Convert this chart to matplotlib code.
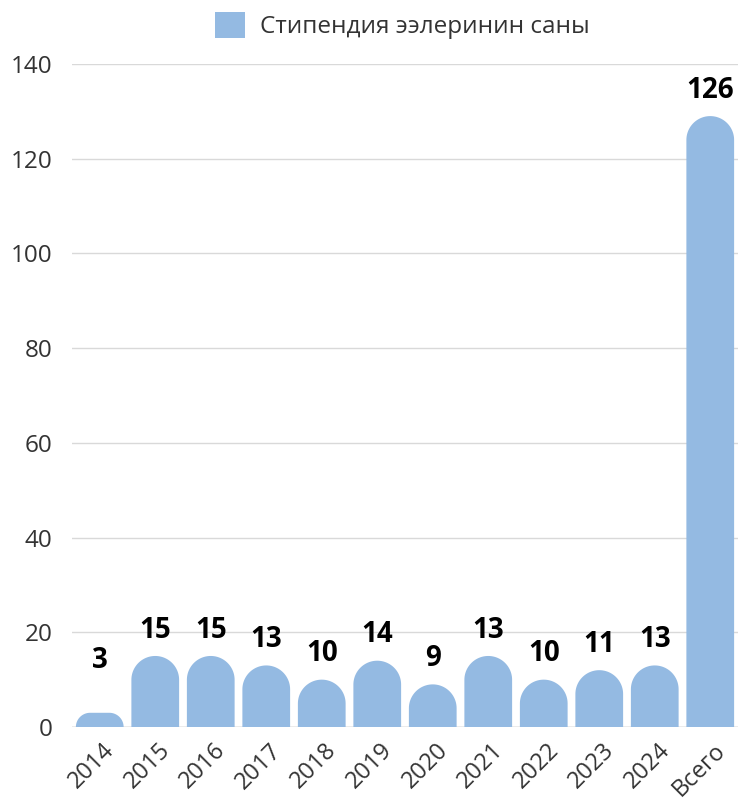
import matplotlib
matplotlib.use("Agg")
import matplotlib.pyplot as plt
import matplotlib.transforms as mtransforms
from matplotlib.patches import Polygon, Patch
import numpy as np

plt.rcParams["font.family"] = ["Open Sans", "DejaVu Sans"]

# ---------- data ----------
categories = ["2014", "2015", "2016", "2017", "2018", "2019",
              "2020", "2021", "2022", "2023", "2024", "Всего"]
bar_heights = [3, 15, 15, 13, 10, 14, 9, 15, 10, 12, 13, 129]
bar_labels = ["3", "15", "15", "13", "10", "14", "9", "13", "10", "11", "13", "126"]
series_name = "Стипендия ээлеринин саны"
y_ticks = [0, 20, 40, 60, 80, 100, 120, 140]

BAR_COLOR = "#94bae2"
GRID_COLOR = "#d9d9d9"
TEXT_COLOR = "#333333"


def rounded_top(x0, width, height, px_x, px_y, n=24):
    """Polygon points for a bar with rounded top corners (round in pixels)."""
    hw_px = width / 2 * px_x
    r = min(hw_px, height * px_y)
    rx, ry = r / px_x, r / px_y
    x1 = x0 + width
    pts = [(x0, 0), (x0, height - ry)]
    for t in np.linspace(np.pi, np.pi / 2, n):
        pts.append((x0 + rx + rx * np.cos(t), height - ry + ry * np.sin(t)))
    for t in np.linspace(np.pi / 2, 0, n):
        pts.append((x1 - rx + rx * np.cos(t), height - ry + ry * np.sin(t)))
    pts.append((x1, 0))
    return pts


fig = plt.figure(figsize=(7.38, 8.09), dpi=100)
ax = fig.add_axes([72 / 738, 1 - 727 / 809, 666 / 738, 663 / 809])

x = np.arange(len(categories))
ax.set_xlim(-0.5, len(categories) - 0.5)
ax.set_ylim(0, 140)

bars = ax.bar(x, bar_heights, width=0.86, color=BAR_COLOR, zorder=2)

# swap the plain rectangles for round-topped shapes
p0, p1 = ax.transData.transform([(0, 0), (1, 1)])
px_x, px_y = p1 - p0
for rect in bars:
    rect.set_visible(False)
    poly = Polygon(rounded_top(rect.get_x(), rect.get_width(), rect.get_height(),
                               px_x, px_y),
                   closed=True, facecolor=BAR_COLOR, edgecolor="none", zorder=2)
    ax.add_patch(poly)

# value labels
for xi, h, lab in zip(x, bar_heights, bar_labels):
    ax.text(xi, max(h + 2.4, 11), lab, ha="center", va="bottom",
            fontsize=20, fontweight="bold", color="black", zorder=3)

ax.set_yticks(y_ticks)
ax.grid(axis="y", color=GRID_COLOR, linewidth=1, zorder=0)
ax.set_axisbelow(True)
for side in ["top", "right", "left", "bottom"]:
    ax.spines[side].set_visible(False)
ax.axhline(0, color="#bdbdbd", linewidth=1, zorder=1)

ax.tick_params(axis="y", length=0, pad=14, labelsize=17.5, labelcolor=TEXT_COLOR)
ax.tick_params(axis="x", length=0, pad=4, labelsize=17, labelcolor=TEXT_COLOR)
ax.set_xticks(x)
ax.set_xticklabels(categories, rotation=45, ha="right", va="top",
                   rotation_mode="anchor")
shift = mtransforms.ScaledTranslation(3 / 100, -6 / 100, fig.dpi_scale_trans)
for lbl in ax.get_xticklabels():
    lbl.set_transform(lbl.get_transform() + shift)

handle = Patch(facecolor=BAR_COLOR, edgecolor="none")
fig.legend(handles=[handle], labels=[series_name], loc="upper center",
           bbox_to_anchor=(0.545, 1.012), frameon=False, fontsize=17.5,
           handlelength=1.25, handleheight=1.25, handletextpad=0.6,
           labelcolor=TEXT_COLOR)

fig.savefig("out.png", dpi=100)
